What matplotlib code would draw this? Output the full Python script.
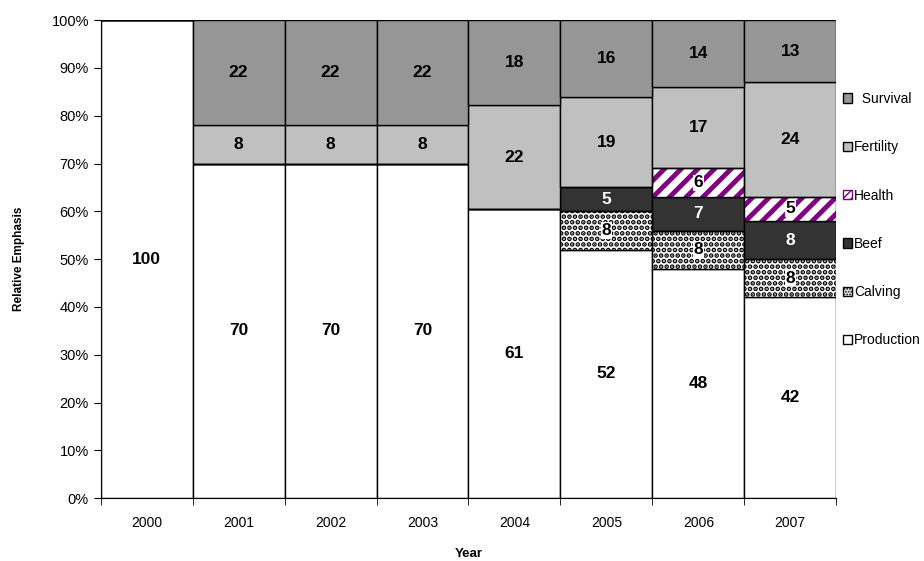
import numpy as np
import matplotlib.pyplot as plt
from matplotlib.patches import Patch

plt.rcParams['font.family'] = ['Liberation Sans', 'DejaVu Sans']

# relative emphasis per trait, stacked bottom -> top
years      = ['2000', '2001', '2002', '2003', '2004', '2005', '2006', '2007']
production = [100, 70, 70, 70, 61, 52, 48, 42]
calving    = [0, 0, 0, 0, 0, 8, 8, 8]
beef       = [0, 0, 0, 0, 0, 5, 7, 8]
health     = [0, 0, 0, 0, 0, 0, 6, 5]
fertility  = [0, 8, 8, 8, 22, 19, 17, 24]
survival   = [0, 22, 22, 22, 18, 16, 14, 13]

# name, values, face, hatch, hatch colour, hatch width, text colour
traits = [
    ('Production', production, 'white', None, 'black', 1, 'black'),
    ('Calving', calving, 'white', '...', 'black', 2.4, 'black'),
    ('Beef', beef, '#333333', None, 'black', 1, 'white'),
    ('Health', health, 'white', '//', '#800080', 3.5, 'black'),
    ('Fertility', fertility, '#c0c0c0', None, 'black', 1, 'black'),
    ('Survival', survival, '#969696', None, 'black', 1, 'black'),
]

fig = plt.figure(figsize=(9.24, 5.61), dpi=100)
ax = fig.add_axes([0.109, 0.112, 0.796, 0.852])

x = np.arange(len(years))
tot = np.sum([t[1] for t in traits], axis=0).astype(float)
bottom = np.zeros(len(years))
handles = {}
for name, vals, fc, hatch, hc, hlw, tc in traits:
    h = np.array(vals) / tot * 100
    if hatch:
        with plt.rc_context({'hatch.linewidth': hlw}):
            ax.bar(x, h, 1.0, bottom=bottom, color=fc, hatch=hatch,
                   edgecolor=hc, linewidth=0, zorder=2)
            handles[name] = Patch(facecolor=fc, hatch=hatch * 2, edgecolor=hc)
        ax.bar(x, h, 1.0, bottom=bottom, color='none',
               edgecolor='black', linewidth=1, zorder=3)
        box = dict(facecolor='white', edgecolor='none', pad=0.5)
    else:
        ax.bar(x, h, 1.0, bottom=bottom, color=fc,
               edgecolor='black', linewidth=1, zorder=2)
        handles[name] = Patch(facecolor=fc, edgecolor='black')
        box = None
    for i, v in enumerate(vals):
        if v > 0:
            ax.text(x[i], bottom[i] + h[i] / 2, str(v), ha='center',
                    va='center', fontsize=12.5, fontweight='bold', color=tc,
                    bbox=box, zorder=4)
    bottom += h

ax.set_xlim(-0.5, len(years) - 0.5)
ax.set_ylim(0, 100)
ax.set_yticks(np.arange(0, 101, 10))
ax.set_yticklabels(['%d%%' % v for v in range(0, 101, 10)], fontsize=10.5)
ax.set_xticks(x)
ax.set_xticklabels(years, fontsize=10)
ax.set_xticks(np.arange(-0.5, len(years)), minor=True)
ax.tick_params(axis='x', which='major', length=0, pad=13)
ax.tick_params(axis='x', which='minor', length=5, direction='out')
ax.tick_params(axis='y', length=5, direction='out')
for s in ['top', 'right']:
    ax.spines[s].set_visible(False)

ax.set_xlabel('Year', fontsize=9.5, fontweight='bold', labelpad=12.5)
ax.set_ylabel('Relative Emphasis', fontsize=8.5, fontweight='bold', labelpad=19)

order = [t[0] for t in traits][::-1]
labels = ['  Survival' if n == 'Survival' else n for n in order]
fig.legend([handles[n] for n in order], labels, loc='upper left',
           bbox_to_anchor=(0.906, 0.846), frameon=False, fontsize=10,
           handlelength=0.65, handleheight=0.65, handletextpad=0.15,
           labelspacing=2.47, borderaxespad=0)

fig.savefig('out.png', dpi=100)
